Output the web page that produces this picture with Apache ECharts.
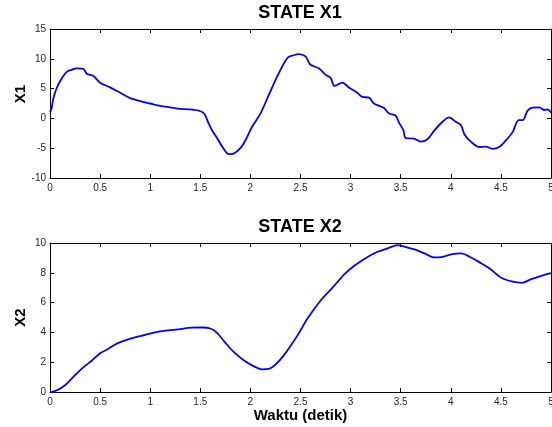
<!DOCTYPE html>
<html><head><meta charset="utf-8">
<script src="https://cdn.jsdelivr.net/npm/echarts@6/dist/echarts.min.js"></script>
<style>html,body{margin:0;padding:0;background:#fff}#c{width:552px;height:427px}</style>
</head><body><div id="c"></div>
<script>
const timeX1 = [0, 0.017, 0.033, 0.067, 0.117, 0.167, 0.217, 0.267, 0.333, 0.367, 0.433, 0.5, 0.6, 0.7, 0.8, 0.9, 1.0, 1.1, 1.2, 1.3, 1.4, 1.5, 1.543, 1.583, 1.617, 1.667, 1.733, 1.783, 1.833, 1.9, 1.95, 2.017, 2.1, 2.183, 2.267, 2.367, 2.433, 2.483, 2.55, 2.6, 2.683, 2.75, 2.8, 2.84, 2.917, 2.983, 3.067, 3.117, 3.183, 3.233, 3.3, 3.333, 3.383, 3.45, 3.483, 3.527, 3.55, 3.633, 3.7, 3.767, 3.833, 3.9, 3.983, 4.05, 4.1, 4.14, 4.2, 4.283, 4.35, 4.417, 4.483, 4.55, 4.617, 4.677, 4.717, 4.767, 4.817, 4.883, 4.933, 4.967, 5.0];
const valuesX1 = [1.0, 1.8, 3.3, 5.1, 6.7, 7.8, 8.15, 8.4, 8.3, 7.5, 7.1, 6.0, 5.2, 4.3, 3.4, 2.9, 2.5, 2.1, 1.85, 1.6, 1.5, 1.2, 0.7, -0.85, -2.0, -3.3, -5.1, -6.0, -5.9, -5.0, -3.7, -1.4, 0.8, 3.9, 7.0, 10.1, 10.6, 10.8, 10.4, 9.0, 8.4, 7.3, 6.8, 5.45, 6.0, 5.2, 4.3, 3.6, 3.5, 2.5, 2.0, 1.75, 0.84, 0.44, -0.7, -2.0, -3.3, -3.4, -3.9, -3.5, -2.1, -0.85, 0.17, -0.57, -1.1, -2.8, -3.9, -4.8, -4.75, -5.1, -4.8, -3.7, -2.3, -0.3, -0.3, 1.3, 1.8, 1.85, 1.4, 1.5, 0.95];
const timeX2 = [0, 0.017, 0.083, 0.15, 0.217, 0.283, 0.35, 0.417, 0.5, 0.583, 0.667, 0.75, 0.85, 0.95, 1.05, 1.15, 1.283, 1.417, 1.517, 1.6, 1.667, 1.75, 1.833, 1.933, 2.017, 2.117, 2.183, 2.25, 2.333, 2.417, 2.48, 2.57, 2.703, 2.82, 2.937, 3.037, 3.153, 3.27, 3.37, 3.47, 3.537, 3.637, 3.737, 3.837, 3.92, 4.003, 4.103, 4.187, 4.287, 4.387, 4.503, 4.62, 4.71, 4.803, 4.903, 5.0];
const valuesX2 = [0, 0.0, 0.16, 0.45, 0.9, 1.35, 1.75, 2.1, 2.6, 2.9, 3.25, 3.47, 3.67, 3.83, 4.0, 4.12, 4.21, 4.32, 4.33, 4.26, 3.97, 3.3, 2.69, 2.13, 1.79, 1.52, 1.55, 1.84, 2.46, 3.25, 3.9, 4.93, 6.16, 7.0, 7.89, 8.47, 9.0, 9.41, 9.64, 9.86, 9.75, 9.57, 9.3, 9.03, 9.07, 9.23, 9.3, 9.08, 8.7, 8.29, 7.67, 7.4, 7.33, 7.57, 7.8, 7.98];
const xTickLabels = ['0', '0.5', '1', '1.5', '2', '2.5', '3', '3.5', '4', '4.5', '5'];
const yTicksX1 = [-10, -5, 0, 5, 10, 15];
const yTicksX2 = [0, 2, 4, 6, 8, 10];
const titles = ['STATE X1', 'STATE X2'];
const yNames = ['X1', 'X2'];
const xName = 'Waktu (detik)';

const FONT = '"Liberation Sans", Arial, Helvetica, sans-serif';
const lbl = { fontSize: 10, color: '#262626', fontFamily: FONT };
const line = { show: true, onZero: false, lineStyle: { color: '#000', width: 1 } };
const tick = { show: true, inside: true, length: 4, lineStyle: { color: '#000', width: 1 } };

function xAx(grid, position, labels, name) {
  const a = {
    type: 'value', gridIndex: grid, position: position,
    min: 0, max: 5, interval: 0.5,
    axisLine: line, axisTick: tick, splitLine: { show: false },
    axisLabel: labels ? Object.assign({ margin: 5, formatter: v => xTickLabels[Math.round(v / 0.5)] }, lbl) : { show: false }
  };
  if (name) {
    a.name = name; a.nameLocation = 'middle'; a.nameGap = 16; a.nameMoveOverlap = false;
    a.nameTextStyle = { fontSize: 15, fontWeight: 'bold', color: '#000', fontFamily: FONT };
  }
  return a;
}
function yAx(grid, position, ticks, labels, name, pad) {
  const a = {
    type: 'value', gridIndex: grid, position: position,
    min: ticks[0], max: ticks[ticks.length - 1], interval: ticks[1] - ticks[0],
    axisLine: line, axisTick: tick, splitLine: { show: false },
    axisLabel: labels ? Object.assign({ margin: 4 }, lbl) : { show: false }
  };
  if (name) {
    a.name = name; a.nameLocation = 'middle'; a.nameGap = 22; a.nameMoveOverlap = false;
    a.nameTextStyle = { fontSize: 15, fontWeight: 'bold', color: '#000', fontFamily: FONT, padding: pad };
  }
  return a;
}

const chart = echarts.init(document.getElementById('c'), null, { renderer: 'canvas' });
chart.setOption({
  animation: false,
  backgroundColor: '#fff',
  title: [
    { text: titles[0], left: 300, top: 4, textAlign: 'center', padding: 0,
      textStyle: { fontSize: 18, fontWeight: 'bold', color: '#000', fontFamily: FONT } },
    { text: titles[1], left: 300, top: 218, textAlign: 'center', padding: 0,
      textStyle: { fontSize: 18, fontWeight: 'bold', color: '#000', fontFamily: FONT } }
  ],
  grid: [
    { left: 50, right: 1, top: 29, height: 149, containLabel: false, outerBoundsMode: 'none' },
    { left: 50, right: 1, top: 243, height: 149, containLabel: false, outerBoundsMode: 'none' }
  ],
  xAxis: [
    xAx(0, 'bottom', true, null),
    xAx(0, 'top', false, null),
    xAx(1, 'bottom', true, xName),
    xAx(1, 'top', false, null)
  ],
  yAxis: [
    yAx(0, 'left', yTicksX1, true, yNames[0], [0, 0, 0, 19]),
    yAx(0, 'right', yTicksX1, false, null),
    yAx(1, 'left', yTicksX2, true, yNames[1], 0),
    yAx(1, 'right', yTicksX2, false, null)
  ],
  series: [
    { type: 'line', xAxisIndex: 0, yAxisIndex: 0, showSymbol: false, smooth: 0.3,
      data: timeX1.map((t, i) => [t, valuesX1[i]]),
      lineStyle: { color: '#0000ff', width: 1.8 } },
    { type: 'line', xAxisIndex: 2, yAxisIndex: 2, showSymbol: false, smooth: 0.3,
      data: timeX2.map((t, i) => [t, valuesX2[i]]),
      lineStyle: { color: '#0000ff', width: 1.8 } }
  ]
});
</script>
</body></html>
